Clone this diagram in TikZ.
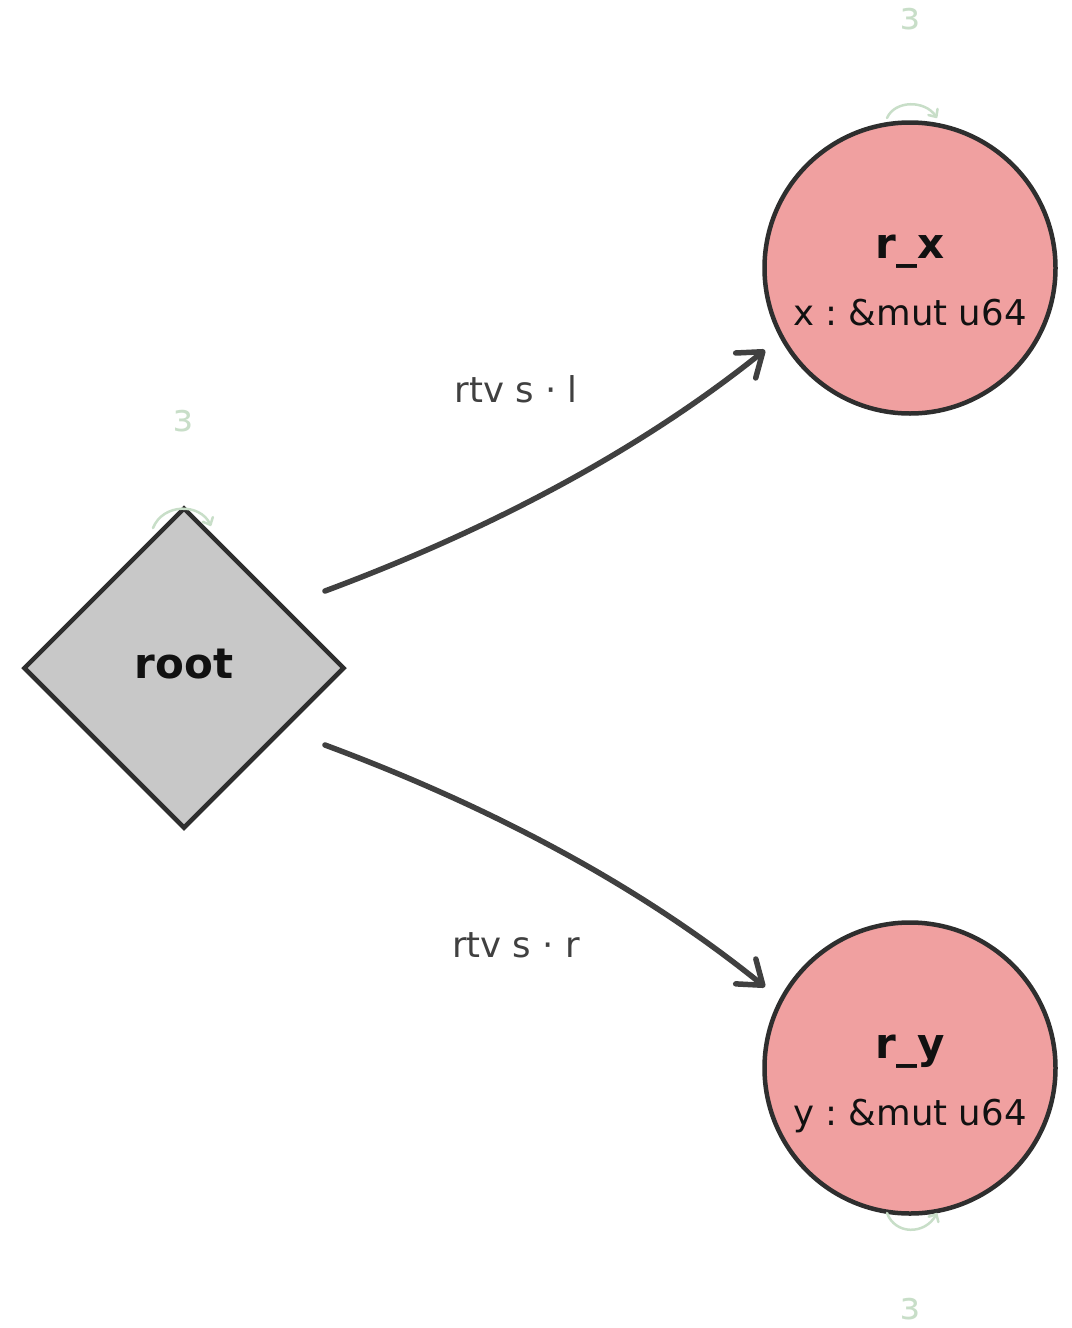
\documentclass[tikz,border=0pt]{standalone}
\usepackage{fontspec}
\setmainfont{DejaVu Sans}
\usepackage{graphicx}
\usetikzlibrary{shapes.geometric,arrows.meta,calc}
\frenchspacing

\definecolor{borderc}{HTML}{2E2E2E}
\definecolor{edgec}{HTML}{404040}
\definecolor{regionfill}{HTML}{F0A0A0}
\definecolor{rootfill}{HTML}{C8C8C8}
\definecolor{loopc}{HTML}{C8DEC8}
\definecolor{namec}{HTML}{111111}

\tikzset{
  region/.style={circle, draw=borderc, line width=4.5pt, fill=regionfill,
    minimum size=291pt, inner sep=0pt},
  rootnode/.style={diamond, draw=borderc, line width=4.5pt, fill=rootfill,
    minimum width=321pt, minimum height=321pt, inner sep=0pt},
  nametext/.style={anchor=base, inner sep=0pt, text=namec,
    font=\fontsize{42}{46}\selectfont\bfseries},
  typetext/.style={anchor=base, inner sep=0pt, text=namec,
    font=\fontsize{35.5}{40}\selectfont},
  edgelabel/.style={anchor=base, inner sep=0pt, text=edgec,
    font=\fontsize{35.5}{40}\selectfont},
  epslabel/.style={anchor=base, inner sep=0pt, text=loopc,
    font=\fontsize{38}{42}\selectfont},
  edge/.style={draw=edgec, line width=5.5pt, line cap=round,
    -{Straight Barb[round, length=22pt, width=32pt]}},
  selfloop/.style={draw=loopc, line width=2.5pt, line cap=round,
    -{Straight Barb[round, length=6pt, width=11pt]}},
}

\begin{document}
\begin{tikzpicture}[x=1pt, y=-1pt]
  \useasboundingbox (0,0) rectangle (1071,1328);

  % nodes
  \node[rootnode] (root) at (184,668) {};
  \node[region] (rx) at (910,268) {};
  \node[region] (ry) at (910,1068) {};

  % node texts
  \node[nametext] (roottxt) at (184,678) {root};
  \node[nametext] (rxname) at (910,258) {r\_x};
  \node[typetext] (rxtype) at (910,325) {x : \&mut u64};
  \node[nametext] (ryname) at (910,1058) {r\_y};
  \node[typetext] (rytype) at (910,1125) {y : \&mut u64};

  % borrow edges
  \draw[edge] ($(root.center)+(141,-77)$)
    .. controls (497,527) and (644,447) .. ($(rx.center)+(-145,82)$);
  \draw[edge] ($(root.center)+(141,77)$)
    .. controls (497,809) and (644,889) .. ($(ry.center)+(-145,-81)$);
  \node[edgelabel] (lblx) at (516,402) {rtv s · l};
  \node[edgelabel] (lbly) at (516,957) {rtv s · r};

  % epsilon self loops
  \draw[selfloop] ($(rx.center)+(-23,-150)$)
    .. controls (895,100) and (925,100) .. ($(rx.center)+(27,-150)$);
  \draw[selfloop] ($(root.center)+(-31,-140)$)
    .. controls (163,503) and (200,503) .. ($(root.center)+(27,-142)$);
  \draw[selfloop] ($(ry.center)+(-23,145)$)
    .. controls (895,1235) and (925,1235) .. ($(ry.center)+(27,145)$);
  \node[epslabel] (epsx) at (910,29) {\reflectbox{ε}};
  \node[epslabel] (epsroot) at (183,431) {\reflectbox{ε}};
  \node[epslabel] (epsy) at (910,1319) {\reflectbox{ε}};
\end{tikzpicture}
\end{document}
